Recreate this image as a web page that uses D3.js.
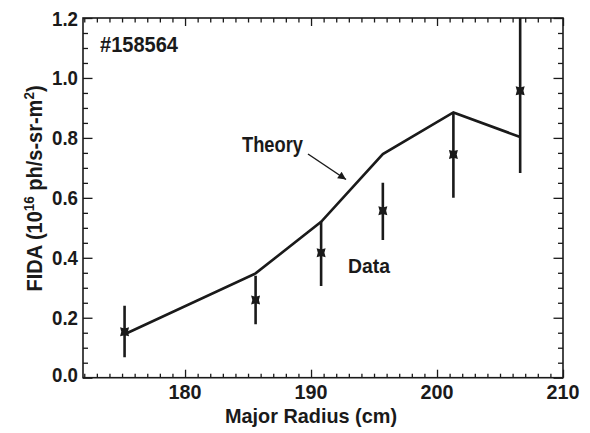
<!DOCTYPE html>
<html>
<head>
<meta charset="utf-8">
<script src="https://cdn.jsdelivr.net/npm/d3@7"></script>
<style>
  html, body { margin: 0; padding: 0; background: #fff; }
  svg text { font-family: "Liberation Sans", Arial, Helvetica, sans-serif; font-weight: bold; fill: #1a1a1a; }
</style>
</head>
<body>
<svg id="chart" width="590" height="433"></svg>
<script>
// FIDA signal vs major radius, shot #158564
const radius   = [175.2, 185.6, 190.8, 195.7, 201.3, 206.6];
const fida     = [0.153, 0.259, 0.417, 0.557, 0.745, 0.957];
const errLow   = [0.068, 0.178, 0.306, 0.459, 0.600, 0.683];
const errHigh  = [0.240, 0.340, 0.522, 0.650, 0.885, 1.230];
const theory   = [0.145, 0.348, 0.520, 0.746, 0.885, 0.803];
const xTicks   = [180, 190, 200, 210];
const yTicks   = [0.0, 0.2, 0.4, 0.6, 0.8, 1.0, 1.2];

const ink = "#1a1a1a";

const svg = d3.select("#chart");
const m = { left: 83, right: 563, top: 18, bottom: 377.7 };

const x = d3.scaleLinear().domain([171.9, 210]).range([m.left, m.right]);
const y = d3.scaleLinear().domain([0, 1.2]).range([m.bottom, m.top]);

const xMinor = d3.range(172, 210, 1).filter(v => v % 10 !== 0);
const yMinor = d3.range(0.05, 1.2, 0.05).filter(v => Math.abs(v * 5 - Math.round(v * 5)) > 1e-6);

// inward ticks on all four sides
function tickGroup(axisFn, scale, values, size, tf) {
  const g = svg.append("g").attr("transform", tf)
    .call(axisFn(scale).tickValues(values).tickSize(size).tickFormat(""));
  g.select(".domain").remove();
  g.selectAll("line").attr("stroke", ink).attr("stroke-width", 1.3);
  return g;
}
tickGroup(d3.axisTop, x, xMinor, 4, `translate(0,${m.bottom})`);
tickGroup(d3.axisTop, x, xTicks, 8, `translate(0,${m.bottom})`);
tickGroup(d3.axisBottom, x, xMinor, 4.5, `translate(0,${m.top})`);
tickGroup(d3.axisBottom, x, xTicks, 8, `translate(0,${m.top})`);
tickGroup(d3.axisRight, y, yMinor, 5, `translate(${m.left},0)`);
tickGroup(d3.axisRight, y, yTicks, 9.5, `translate(${m.left},0)`);
tickGroup(d3.axisLeft, y, yMinor, 5, `translate(${m.right},0)`);
tickGroup(d3.axisLeft, y, yTicks, 9.5, `translate(${m.right},0)`);

// frame
svg.append("rect")
  .attr("x", m.left).attr("y", m.top)
  .attr("width", m.right - m.left).attr("height", m.bottom - m.top)
  .attr("fill", "none").attr("stroke", ink).attr("stroke-width", 1.6);

// condensed bold labels, fitted to a set width
function label(px, py, str, size, anchor, width) {
  return svg.append("text")
    .attr("x", px).attr("y", py)
    .attr("text-anchor", anchor)
    .attr("font-size", size)
    .attr("textLength", width)
    .attr("lengthAdjust", "spacingAndGlyphs")
    .text(str);
}
xTicks.forEach(v => label(x(v), 398.5, d3.format("d")(v), 21, "middle", 33));
yTicks.forEach(v => label(78, y(v) + 7.5 - (v === 0 ? 3 : 0), d3.format(".1f")(v), 21, "end", 26));

// axis titles
label(311, 423, "Major Radius (cm)", 21, "middle", 172);
const yt = svg.append("text")
  .attr("transform", "translate(42,188.5) rotate(-90) scale(0.93,1)")
  .attr("text-anchor", "middle")
  .attr("font-size", 21.5);
yt.append("tspan").text("FIDA (10");
yt.append("tspan").attr("dy", -8).attr("font-size", 14.5).text("16");
yt.append("tspan").attr("dy", 8).text(" ph/s-sr-m");
yt.append("tspan").attr("dy", -8).attr("font-size", 14.5).text("2");
yt.append("tspan").attr("dy", 8).text(")");

// plot contents clipped to the frame
svg.append("clipPath").attr("id", "plotclip")
  .append("rect").attr("x", m.left).attr("y", m.top)
  .attr("width", m.right - m.left).attr("height", m.bottom - m.top);
const plot = svg.append("g").attr("clip-path", "url(#plotclip)");

// theory curve
const line = d3.line().x((d, i) => x(radius[i])).y(d => y(d));
plot.append("path").datum(theory)
  .attr("d", line)
  .attr("fill", "none").attr("stroke", ink)
  .attr("stroke-width", 2.6).attr("stroke-linejoin", "miter");

// error bars
plot.selectAll("line.err").data(radius).join("line")
  .attr("class", "err")
  .attr("x1", d => x(d)).attr("x2", d => x(d))
  .attr("y1", (d, i) => y(errLow[i])).attr("y2", (d, i) => y(errHigh[i]))
  .attr("stroke", ink).attr("stroke-width", 2.6);

// data markers: small notched squares
const marker = "M-4.5,-4.5L0,-3.3L4.5,-4.5L3.3,0L4.5,4.5L0,3.3L-4.5,4.5L-3.3,0Z";
plot.selectAll("path.pt").data(radius).join("path")
  .attr("class", "pt")
  .attr("transform", (d, i) => `translate(${x(d)},${y(fida[i])})`)
  .attr("d", marker)
  .attr("fill", ink);

// annotations
label(100, 51.5, "#158564", 22, "start", 78);
label(242, 152, "Theory", 22.5, "start", 61);
label(348, 273, "Data", 21, "start", 42);

// arrow from the Theory label to the curve
svg.append("defs").append("marker")
  .attr("id", "arrowhead")
  .attr("viewBox", "0 0 10 10").attr("refX", 10).attr("refY", 5)
  .attr("markerWidth", 11).attr("markerHeight", 8)
  .attr("markerUnits", "userSpaceOnUse")
  .attr("orient", "auto")
  .append("path").attr("d", "M0,0L10,5L0,10Z").attr("fill", ink);
svg.append("line")
  .attr("x1", 308).attr("y1", 154).attr("x2", 346).attr("y2", 179.5)
  .attr("stroke", ink).attr("stroke-width", 1.5)
  .attr("marker-end", "url(#arrowhead)");
</script>
</body>
</html>
